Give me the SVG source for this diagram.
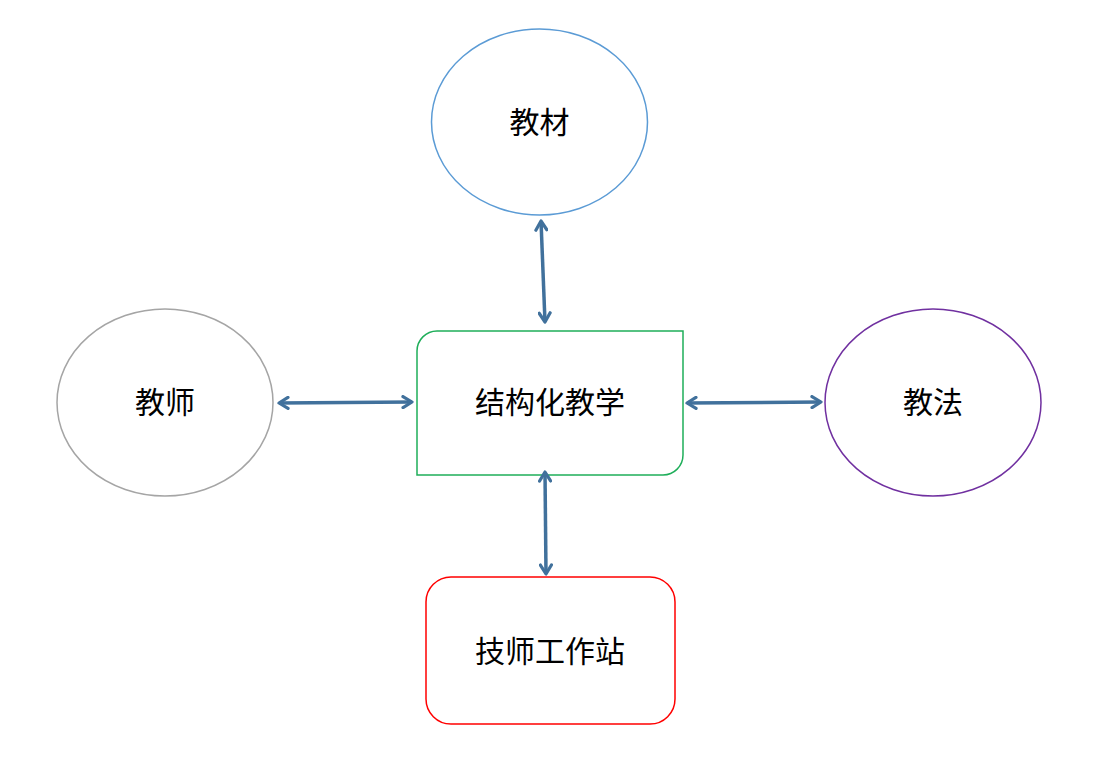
<svg xmlns="http://www.w3.org/2000/svg" width="1104" height="762" viewBox="0 0 1104 762">
<style>
.t{font-family:"Noto Sans CJK SC","Microsoft YaHei",sans-serif;font-size:30px;fill:#000;text-anchor:middle;dominant-baseline:central}
.c{stroke:#41719c;stroke-width:3.5;fill:none}
</style>
<defs>
<marker id="ah" viewBox="0 0 14 14" refX="12" refY="7" markerWidth="14" markerHeight="14" markerUnits="userSpaceOnUse" orient="auto-start-reverse">
<path d="M3,1.5 L12,7 L3,12.5" fill="none" stroke="#41719c" stroke-width="3.2" stroke-linecap="round" stroke-linejoin="round"/>
</marker>
</defs>
<rect width="1104" height="762" fill="#fff"/>
<g id="n-jiaocai">
<ellipse cx="539.5" cy="122" rx="108" ry="93" fill="#fff" stroke="#5b9bd5" stroke-width="1.5"/>
<text class="t" x="539.5" y="120">教材</text>
</g>
<g id="n-jiaoshi">
<ellipse cx="165" cy="402.5" rx="108" ry="93.5" fill="#fff" stroke="#a5a5a5" stroke-width="1.5"/>
<text class="t" x="165" y="400">教师</text>
</g>
<g id="n-jiaofa">
<ellipse cx="933" cy="402.5" rx="108" ry="93.5" fill="#fff" stroke="#7030a0" stroke-width="1.5"/>
<text class="t" x="933" y="400">教法</text>
</g>
<g id="n-center">
<path d="M437,331 H683 V455 A20,20 0 0 1 663,475 H417 V351 A20,20 0 0 1 437,331 Z" fill="#fff" stroke="#1fae5a" stroke-width="1.5"/>
<text class="t" x="550" y="400">结构化教学</text>
</g>
<g id="n-station">
<rect x="426" y="577" width="249" height="147" rx="25" ry="25" fill="#fff" stroke="#ff0000" stroke-width="1.5"/>
<text class="t" x="550" y="649">技师工作站</text>
</g>
<g id="connectors">
<line class="c" x1="541" y1="221" x2="545" y2="322" marker-start="url(#ah)" marker-end="url(#ah)"/>
<line class="c" x1="279" y1="403" x2="412" y2="402" marker-start="url(#ah)" marker-end="url(#ah)"/>
<line class="c" x1="687" y1="403" x2="821" y2="402" marker-start="url(#ah)" marker-end="url(#ah)"/>
<line class="c" x1="545" y1="472" x2="546" y2="574" marker-start="url(#ah)" marker-end="url(#ah)"/>
</g>
</svg>
